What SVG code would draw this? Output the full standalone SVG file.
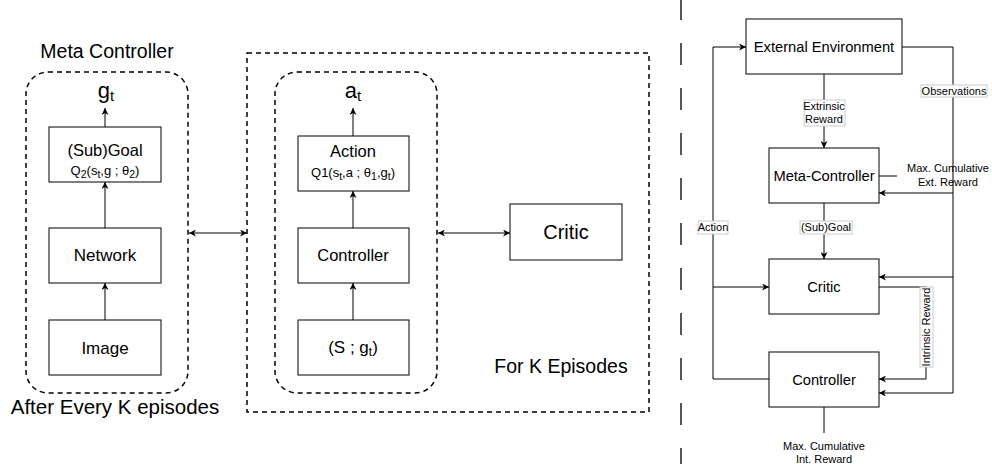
<svg xmlns="http://www.w3.org/2000/svg" width="992" height="464" viewBox="0 0 992 464">
<defs>
<marker id="ah" viewBox="0 0 10 10" refX="10" refY="5" markerWidth="7" markerHeight="7" orient="auto-start-reverse" markerUnits="userSpaceOnUse">
<path d="M0,0 L10,5 L0,10 L3,5 Z" fill="#000"/>
</marker>
</defs>
<style>
text{font-family:"Liberation Sans",Arial,sans-serif;fill:#000;text-anchor:middle}
.box{fill:#fff;stroke:#000;stroke-width:1}
.dash{fill:none;stroke:#000;stroke-width:1.5;stroke-dasharray:5 4}
.ln{fill:none;stroke:#000;stroke-width:1}
.arr{fill:none;stroke:#000;stroke-width:1;marker-end:url(#ah)}
.lbl{fill:#fff;stroke:#ccc;stroke-width:1}
.m{font-size:16.5px}
.l{font-size:17px}
.s{font-size:13px}
.r{font-size:14.7px}
.xs{font-size:11px}
</style>
<rect width="992" height="464" fill="#fff"/>

<g id="containers">
<rect class="dash" x="26" y="72" width="162" height="321" rx="22"/>
<rect class="dash" x="247" y="53" width="402" height="359"/>
<rect class="dash" x="275" y="72" width="162" height="321" rx="22"/>
<line x1="681" y1="0" x2="681" y2="464" stroke="#555" stroke-width="2" stroke-dasharray="22 23" stroke-dashoffset="2"/>
</g>

<g id="titles">
<text font-size="19.5" x="107" y="58">Meta Controller</text>
<text font-size="20.5" x="115" y="414">After Every K episodes</text>
<text font-size="19.5" x="561" y="373">For K Episodes</text>
<text font-size="22" x="106" y="98">g<tspan font-size="15" dy="3">t</tspan></text>
<text font-size="22" x="353" y="98">a<tspan font-size="15" dy="3">t</tspan></text>
</g>

<g id="connectors">
<line class="arr" x1="105" y1="127" x2="105" y2="108"/>
<line class="arr" x1="105" y1="228" x2="105" y2="182"/>
<line class="arr" x1="105" y1="320" x2="105" y2="283"/>
<line class="arr" x1="353" y1="136" x2="353" y2="108"/>
<line class="arr" x1="353" y1="228" x2="353" y2="191"/>
<line class="arr" x1="353" y1="320" x2="353" y2="283"/>
<line class="arr" x1="189" y1="233" x2="247" y2="233" marker-start="url(#ah)"/>
<line class="arr" x1="438" y1="233" x2="510" y2="233" marker-start="url(#ah)"/>

<path class="arr" d="M769,379 H713 V47 H746"/>
<path class="arr" d="M713,287 H769"/>
<path class="arr" d="M902,47 H953 V393 H879"/>
<path class="arr" d="M953,193 H879"/>
<path class="arr" d="M953,277 H879"/>
<path class="arr" d="M824,74 V148"/>
<path class="arr" d="M824,203 V259"/>
<path class="arr" d="M879,287 H926 V379 H879"/>
<path class="ln" d="M879,176 H897"/>
<path class="ln" d="M824,407 V433"/>
</g>

<g id="subgoal">
<rect class="box" x="49" y="127" width="112" height="55"/>
<text class="m" x="105" y="156">(Sub)Goal</text>
<text class="s" x="105" y="175">Q<tspan font-size="10.5" dy="3">2</tspan><tspan dy="-3">(s</tspan><tspan font-size="10.5" dy="3">t</tspan><tspan dy="-3">,g ; θ</tspan><tspan font-size="10.5" dy="3">2</tspan><tspan dy="-3">)</tspan></text>
</g>
<g id="network">
<rect class="box" x="49" y="228" width="112" height="55"/>
<text class="l" x="105" y="261">Network</text>
</g>
<g id="image">
<rect class="box" x="49" y="320" width="112" height="55"/>
<text class="l" x="105" y="354">Image</text>
</g>

<g id="action">
<rect class="box" x="298" y="136" width="111" height="55"/>
<text class="m" x="353" y="157">Action</text>
<text class="s" x="353" y="177">Q1(s<tspan font-size="10.5" dy="3">t</tspan><tspan dy="-3">,a ; θ</tspan><tspan font-size="10.5" dy="3">1</tspan><tspan dy="-3">,g</tspan><tspan font-size="10.5" dy="3">t</tspan><tspan dy="-3">)</tspan></text>
</g>
<g id="controller-mid">
<rect class="box" x="298" y="228" width="111" height="55"/>
<text class="m" x="353" y="261">Controller</text>
</g>
<g id="state">
<rect class="box" x="298" y="320" width="111" height="55"/>
<text class="l" x="353" y="353">(S ; g<tspan font-size="12" dy="3">t</tspan><tspan dy="-3">)</tspan></text>
</g>
<g id="critic-mid">
<rect class="box" x="510" y="204" width="112" height="56"/>
<text font-size="20" x="566" y="239">Critic</text>
</g>

<g id="external-env">
<rect class="box" x="746" y="19" width="156" height="55"/>
<text class="r" x="824" y="52">External Environment</text>
</g>
<g id="meta-controller">
<rect class="box" x="769" y="148" width="110" height="55"/>
<text class="r" x="824" y="181">Meta-Controller</text>
</g>
<g id="critic-right">
<rect class="box" x="769" y="259" width="110" height="55"/>
<text class="r" x="824" y="292">Critic</text>
</g>
<g id="controller-right">
<rect class="box" x="769" y="352" width="110" height="55"/>
<text class="r" x="824" y="385">Controller</text>
</g>

<g id="labels">
<rect class="lbl" x="804" y="100" width="41" height="26"/>
<text class="xs" x="824" y="110">Extrinsic</text>
<text class="xs" x="824" y="123">Reward</text>
<rect class="lbl" x="921" y="85" width="66" height="12"/>
<text class="xs" x="954" y="95">Observations</text>
<rect class="lbl" x="698" y="221" width="30" height="13"/>
<text class="xs" x="713" y="231">Action</text>
<rect class="lbl" x="800" y="221" width="52" height="13"/>
<text class="xs" x="826" y="231">(Sub)Goal</text>
<rect class="lbl" x="920" y="287" width="13" height="80"/>
<text class="xs" transform="translate(930,327) rotate(-90)">Intrinsic Reward</text>
<text class="xs" x="948" y="172">Max. Cumulative</text>
<text class="xs" x="948" y="186">Ext. Reward</text>
<text class="xs" x="824" y="450">Max. Cumulative</text>
<text class="xs" x="824" y="463">Int. Reward</text>
</g>
</svg>
